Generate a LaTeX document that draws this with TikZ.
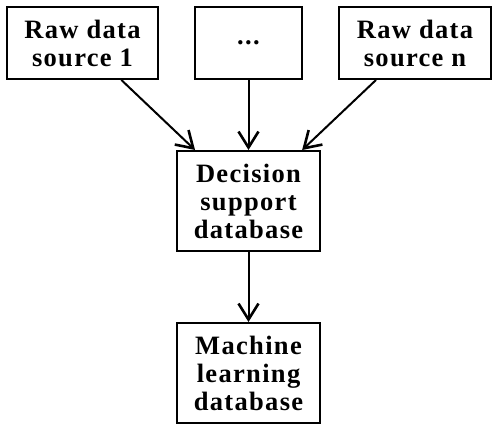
\documentclass[tikz,border=0pt]{standalone}
\usepackage{fontspec}
\setmainfont[LetterSpace=5]{Liberation Serif}
\usetikzlibrary{arrows.meta}
\begin{document}
\begin{tikzpicture}[x=1pt,y=1pt,
  box/.style={draw=black, line width=2pt, align=center, inner sep=0pt,
    font=\fontsize{26.5}{28}\selectfont\bfseries},
  conn/.style={line width=2pt, -{Straight Barb[length=16pt,width=20pt,line width=2.6pt]}}]
\useasboundingbox (0,0) rectangle (498,430);
\node[box, minimum width=151pt, minimum height=72pt] (s1) at (82.5,387) {Raw data\\source 1};
\node[box, minimum width=107pt, minimum height=72pt] (s2) at (248.5,387) {...};
\node[box, minimum width=152pt, minimum height=72pt] (sn) at (415,387) {Raw data\\source n};
\node[box, minimum width=143pt, minimum height=100pt] (dec) at (248.5,229) {Decision\\support\\database};
\node[box, minimum width=143pt, minimum height=100pt] (ml) at (248.5,57) {Machine\\learning\\database};
\draw[conn] (s1) -- (dec);
\draw[conn] (s2) -- (dec);
\draw[conn] (sn) -- (dec);
\draw[conn] (dec) -- (ml);
\end{tikzpicture}
\end{document}
